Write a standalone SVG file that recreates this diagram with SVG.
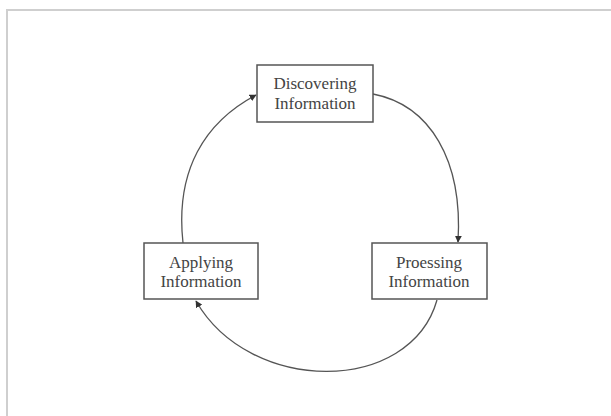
<svg xmlns="http://www.w3.org/2000/svg" width="611" height="416" viewBox="0 0 611 416">
<defs>
<style>
.box{fill:#fff;stroke:#555;stroke-width:1.5}
.lbl{font-family:"Liberation Serif","Times New Roman",serif;font-size:17px;fill:#444;text-anchor:middle}
.edge{fill:none;stroke:#555;stroke-width:1.3;marker-end:url(#ah)}
</style>
<marker id="ah" viewBox="0 0 10 10" refX="9" refY="5" markerWidth="7" markerHeight="7" markerUnits="userSpaceOnUse" orient="auto">
<path d="M0,0 L10,5 L0,10 z" fill="#333"/>
</marker>
</defs>
<rect width="611" height="416" fill="#fff"/>
<path d="M7,416 V10 H611" fill="none" stroke="#cfcfcf" stroke-width="2"/>
<g id="connectors">
<path class="edge" d="M373,94 C430,105 463,160 458,242"/>
<path class="edge" d="M437,300 C410,395 250,395 196,301"/>
<path class="edge" d="M183,243 C175,170 205,122 256,95"/>
</g>
<g id="discovering">
<rect class="box" x="257" y="65" width="116" height="57"/>
<text class="lbl" x="315" y="89">Discovering</text>
<text class="lbl" x="315" y="109">Information</text>
</g>
<g id="processing">
<rect class="box" x="372" y="243" width="115" height="56"/>
<text class="lbl" x="429" y="268">Proessing</text>
<text class="lbl" x="429" y="287">Information</text>
</g>
<g id="applying">
<rect class="box" x="144" y="243" width="114" height="56"/>
<text class="lbl" x="201" y="268">Applying</text>
<text class="lbl" x="201" y="287">Information</text>
</g>
</svg>
